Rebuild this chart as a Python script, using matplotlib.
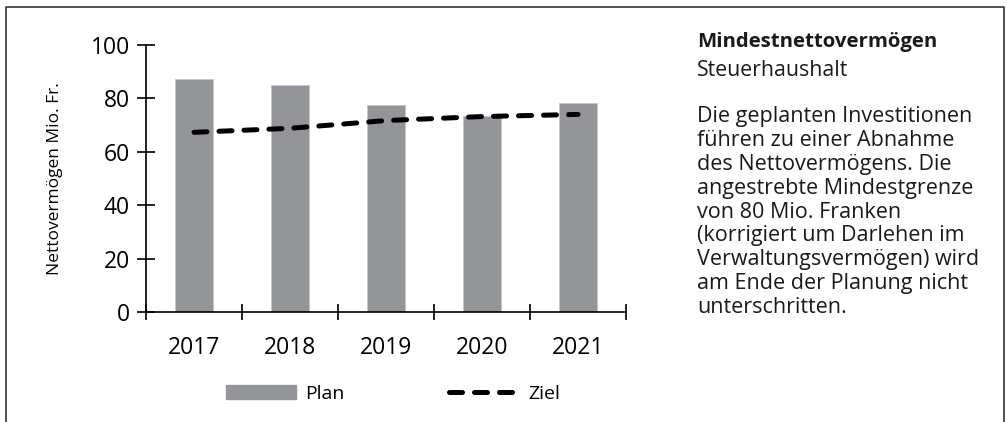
import numpy as np
import matplotlib
matplotlib.use("Agg")
import matplotlib.pyplot as plt
from matplotlib.lines import Line2D
from matplotlib.patches import Patch

years = ["2017", "2018", "2019", "2020", "2021"]
plan = [87.3, 85.0, 77.4, 73.5, 78.3]
ziel = [67.3, 68.8, 71.7, 73.2, 74.0]
y_ticks = [0, 20, 40, 60, 80, 100]

title = "Mindestnettovermögen"
subtitle = "Steuerhaushalt"
body = ("Die geplanten Investitionen\n"
        "führen zu einer Abnahme\n"
        "des Nettovermögens. Die\n"
        "angestrebte Mindestgrenze\n"
        "von 80 Mio. Franken\n"
        "(korrigiert um Darlehen im\n"
        "Verwaltungsvermögen) wird\n"
        "am Ende der Planung nicht\n"
        "unterschritten.")

plt.rcParams['font.family'] = ['Open Sans', 'DejaVu Sans']

W, H = 1007, 422
fig = plt.figure(figsize=(W / 100, H / 100), dpi=100)
ax = fig.add_axes([146 / W, 1 - 312 / H, 480 / W, 267 / H])

x = np.arange(len(years))
ax.bar(x, plan, width=0.4, color="#939598", edgecolor="#c4c5c7", linewidth=0.6,
       label="Plan", zorder=2)
ax.plot(x, ziel, color="black", lw=3.6, linestyle=(0, (2.6, 2.4)),
        dash_capstyle="round", label="Ziel", zorder=3)

ax.set_xlim(-0.5, len(years) - 0.5)
ax.set_ylim(0, 100)
ax.set_yticks(y_ticks)
ax.tick_params(axis="y", direction="inout", length=13, width=1.2, labelsize=16.5, pad=5)
ax.set_xticks(np.arange(len(years) + 1) - 0.5)
ax.set_xticklabels([])
ax.tick_params(axis="x", which="major", direction="inout", length=11.5, width=1.2)
ax.set_xticks(x, minor=True)
ax.set_xticklabels(years, minor=True)
ax.tick_params(axis="x", which="minor", length=0, labelsize=16.5, pad=17)

for s in ["top", "right"]:
    ax.spines[s].set_visible(False)
for s in ["left", "bottom"]:
    ax.spines[s].set_linewidth(1.2)

ax.set_ylabel("Nettovermögen Mio. Fr.", fontsize=12.5, labelpad=20)

handles = [Patch(color="#939598"),
           Line2D([0], [0], color="black", lw=3.6, linestyle=(0, (2.6, 2.4)),
                  dash_capstyle="round")]
fig.legend(handles, ["Plan", "Ziel"], loc="center", bbox_to_anchor=(393 / W, 1 - 394 / H),
           ncol=2, frameon=False, fontsize=14, handlelength=3.6, handleheight=0.75,
           columnspacing=5.4, handletextpad=0.45)

fig.text(697 / W, 1 - 42 / H, title, fontsize=14.7, fontweight="bold", va="center", ha="left",
         color="#1a1a1a")
fig.text(697 / W, 1 - 71 / H, subtitle, fontsize=15.3, va="center", ha="left", color="#1a1a1a")
fig.text(697 / W, 1 - 106 / H, body, fontsize=15.5, va="top", ha="left", color="#1a1a1a",
         linespacing=1.18)

# outer frame (open at the bottom)
fig.add_artist(Line2D([6 / W, 6 / W, 1004 / W, 1004 / W], [0, 1 - 7 / H, 1 - 7 / H, 0],
                      color="#333333", lw=1.2))

fig.savefig("out.png", dpi=100)
